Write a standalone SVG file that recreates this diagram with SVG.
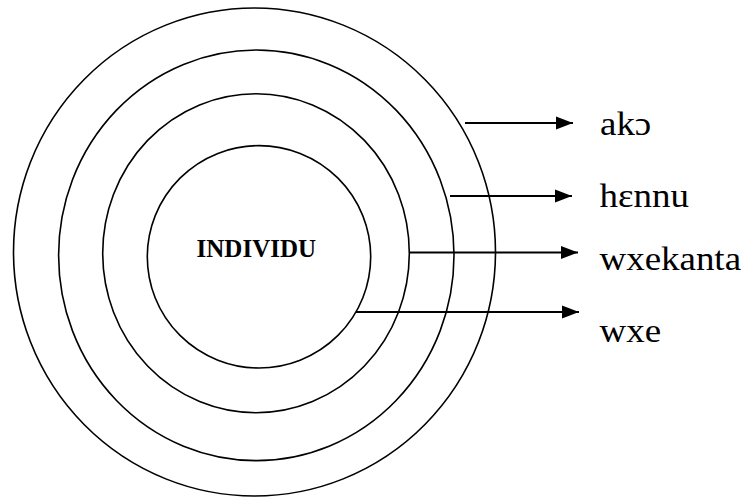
<svg xmlns="http://www.w3.org/2000/svg" width="743" height="497" viewBox="0 0 743 497">
<style>
.ring{fill:none;stroke:#000;stroke-width:1.6}
.conn{stroke:#000;stroke-width:1.8;fill:none}
.lbl{font-family:'Liberation Serif', 'Times New Roman', serif;font-size:33px;fill:#000}
.core{font-family:'Liberation Serif', 'Times New Roman', serif;font-size:25px;font-weight:bold;fill:#000}
</style>
<defs>
<marker id="ah" markerUnits="userSpaceOnUse" markerWidth="18" markerHeight="14" refX="17" refY="7" orient="auto">
<path d="M0,0.5 L17,7 L0,13.5 Z" fill="#000"/>
</marker>
</defs>
<rect width="743" height="497" fill="#fff"/>
<g id="ring-ako"><ellipse class="ring" cx="254.5" cy="252" rx="241" ry="244"/></g>
<g id="ring-hennu"><ellipse class="ring" cx="256.3" cy="255.3" rx="197.7" ry="205.3"/></g>
<g id="ring-wxekanta"><ellipse class="ring" cx="256" cy="253.2" rx="153.3" ry="159.5"/></g>
<g id="ring-wxe"><ellipse class="ring" cx="259" cy="256.8" rx="111.7" ry="111.2"/>
<text class="core" x="256.3" y="256.7" text-anchor="middle">INDIVIDU</text></g>
<g id="connectors">
<line class="conn" x1="465" y1="123" x2="573" y2="123" marker-end="url(#ah)"/>
<line class="conn" x1="450" y1="196" x2="572" y2="196" marker-end="url(#ah)"/>
<line class="conn" x1="410" y1="252.5" x2="578" y2="252.5" marker-end="url(#ah)"/>
<line class="conn" x1="356" y1="312" x2="579" y2="312" marker-end="url(#ah)"/>
</g>
<g id="label-ako"><text class="lbl" transform="translate(600 135) scale(1.12 1)" x="0" y="0">akɔ</text></g>
<g id="label-hennu"><text class="lbl" transform="translate(599.5 206.7) scale(1.12 1)" x="0" y="0">hɛnnu</text></g>
<g id="label-wxekanta"><text class="lbl" transform="translate(599.5 270) scale(1.12 1)" x="0" y="0">wxekanta</text></g>
<g id="label-wxe"><text class="lbl" transform="translate(599.5 341.7) scale(1.12 1)" x="0" y="0">wxe</text></g>
</svg>
